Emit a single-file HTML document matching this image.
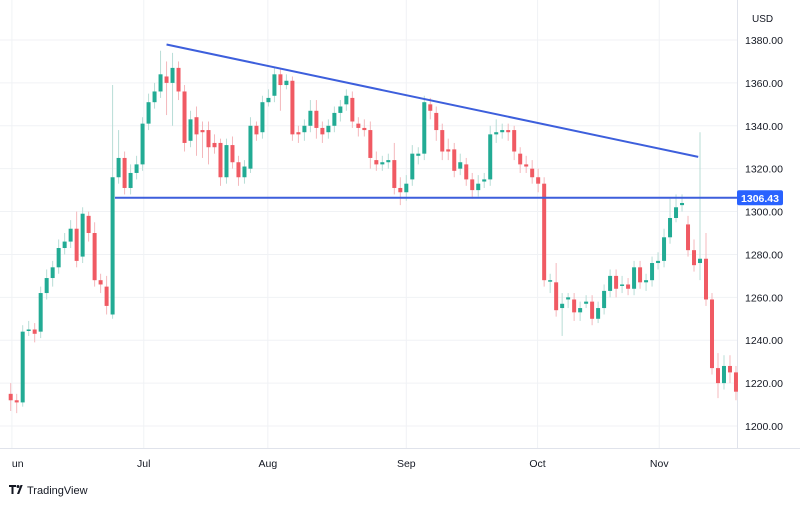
<!DOCTYPE html>
<html><head><meta charset="utf-8"><style>
html,body{margin:0;padding:0;background:#fff;}
svg{display:block;font-family:"Liberation Sans",sans-serif;}
</style></head><body>
<svg id="c" width="800" height="506" viewBox="0 0 800 506"></svg>
<script>
const opens=[1215,1212,1211,1244.5,1245,1244,1262,1269,1274,1283,1286,1292,1279,1298,1290,1268,1265,1252,1316,1325,1311,1318,1322,1341,1351,1356,1363,1360,1367,1356,1333,1344,1338,1338,1332,1332,1316,1331,1323,1316,1320,1340,1337,1351,1354,1364,1359,1361,1337,1337,1340,1347,1339,1337,1340,1346,1350,1353,1341,1339,1338,1324,1322,1323,1324,1311,1309,1315,1326,1327,1350,1346,1338,1329,1329,1320,1322,1315,1310,1314,1315,1336,1337,1338,1338,1327,1322,1320,1316,1313,1268,1267,1255,1259,1259,1253,1257,1258,1250,1255,1263,1270,1266,1266,1264,1274,1267,1268,1276,1277,1288,1297,1303,1294,1282,1276,1278,1259,1227,1220,1228,1225];
const closes=[1212,1211,1244,1245,1243,1262,1269,1274,1283,1286,1292,1277,1299,1290,1268,1266,1256,1316,1325,1311,1318,1322,1341,1351,1356,1364,1360,1367,1356,1332,1343,1336,1337,1330,1330,1316,1331,1323,1316,1321,1340,1336,1351,1353,1364,1359,1361,1336,1336,1340,1347,1339,1336,1340,1346,1349,1354,1342,1339,1338,1325,1322,1323,1324,1311,1309,1313,1327,1327,1351,1347,1338,1328,1328,1319,1323,1315,1310,1313,1315,1336,1337,1338,1337,1328,1322,1321,1316,1313,1268,1268,1254,1257,1260,1253,1255,1258,1250,1255,1263,1270,1264,1266,1264,1274,1267,1268,1276,1277,1288,1297,1302,1304,1282,1275,1278,1259,1227,1220,1228,1225,1216];
const highs=[1220,1215,1247,1249,1248,1265,1273,1277,1287,1290,1296,1300,1302,1300,1295,1271,1270,1359,1338,1328,1322,1326,1344,1355,1360,1375,1370,1374,1370,1359,1347,1349,1342,1342,1336,1334,1334,1335,1326,1324,1344,1342,1354,1357,1367,1367,1364,1363,1340,1343,1352,1352,1342,1343,1349,1352,1357,1356,1344,1343,1342,1328,1326,1327,1332,1316,1317,1331,1330,1354,1353,1349,1341,1334,1332,1327,1325,1318,1317,1318,1340,1343,1341,1341,1340,1330,1326,1324,1320,1316,1271,1276,1262,1262,1262,1258,1261,1261,1258,1266,1273,1273,1270,1269,1277,1277,1271,1279,1281,1292,1306,1308,1308,1298,1287,1337,1290,1262,1234,1233,1233,1228];
const lows=[1207,1206,1209,1242,1239,1241,1259,1265,1271,1280,1283,1274,1276,1286,1265,1262,1252,1250,1313,1308,1308,1315,1319,1338,1348,1353,1345,1340,1352,1328,1330,1326,1325,1322,1327,1312,1313,1320,1312,1313,1318,1333,1334,1349,1351,1347,1357,1333,1332,1333,1337,1334,1332,1334,1337,1342,1347,1339,1335,1335,1320,1319,1319,1320,1308,1303,1305,1312,1322,1324,1343,1333,1324,1324,1316,1317,1312,1306,1307,1311,1312,1332,1334,1333,1324,1318,1318,1313,1309,1265,1262,1251,1242,1255,1249,1249,1255,1247,1248,1252,1260,1260,1262,1261,1261,1264,1263,1265,1273,1274,1285,1295,1300,1279,1272,1268,1256,1224,1213,1217,1220,1212];
const yTicks=[1200,1220,1240,1260,1280,1300,1320,1340,1360,1380];
const monthLabels=["un","Jul","Aug","Sep","Oct","Nov"];
const monthIdx=[0.2,22.2,42.9,66,87.9,108.2];
const trendStart=[26,1377.9];
const trendEnd=[114.7,1325.5];
const supportLevel=1306.43;
const supportStartIdx=17.4;

const NS="http://www.w3.org/2000/svg";
const svg=document.getElementById('c');
const X0=10.7,DX=5.994,PLOT_R=737;
const xS=i=>X0+i*DX;
const yS=p=>426-(p-1200)*2.1444;
function mk(t,a,parent){const e=document.createElementNS(NS,t);for(const k in a)e.setAttribute(k,a[k]);(parent||svg).appendChild(e);return e;}

// grid
const grid=mk('g',{});


yTicks.forEach(v=>{mk('line',{x1:0,x2:PLOT_R,y1:yS(v),y2:yS(v),stroke:'#f0f2f5','stroke-width':1},grid);});
monthIdx.forEach(i=>{mk('line',{x1:xS(i),x2:xS(i),y1:0,y2:448,stroke:'#f0f2f5','stroke-width':1},grid);});

// axes
const ax=mk('g',{});


mk('line',{x1:PLOT_R+0.5,x2:PLOT_R+0.5,y1:0,y2:448,stroke:'#e0e3eb'},ax);
mk('line',{x1:0,x2:800,y1:448.5,y2:448.5,stroke:'#e0e3eb'},ax);
const usd=mk('text',{x:752,y:22,'font-size':10,fill:'#131722'},ax);usd.textContent='USD';


yTicks.forEach(v=>{const t=mk('text',{x:745,y:yS(v)+4,'font-size':10.5,fill:'#131722'},ax);t.textContent=v.toFixed(2);

});
const xa=mk('g',{});


monthLabels.forEach((m,k)=>{const t=mk('text',{x:xS(monthIdx[k]),y:467,'font-size':10.5,fill:'#131722','text-anchor':k===0?'start':'middle'},xa);t.textContent=m;

});

// candles
const cg=mk('g',{});


opens.forEach((o,i)=>{
  const c=closes[i],up=c>=o,col=up?'#22ab94':'#f05a63';
  const x=xS(i);
  const g=mk('g',{},cg);
  
  
  mk('line',{x1:x,x2:x,y1:yS(highs[i]),y2:yS(lows[i]),stroke:up?'#b8ddd6':'#f4b8bc','stroke-width':1},g);
  const yt=yS(Math.max(o,c)),yb=yS(Math.min(o,c));
  mk('rect',{x:x-2,y:yt,width:4,height:Math.max(1.5,yb-yt),fill:col},g);
});

// lines
const tl=mk('line',{x1:xS(trendStart[0]),y1:yS(trendStart[1]),x2:xS(trendEnd[0]),y2:yS(trendEnd[1]),stroke:'#3d5fdc','stroke-width':2});


const sl=mk('line',{x1:xS(supportStartIdx),y1:yS(supportLevel),x2:PLOT_R,y2:yS(supportLevel),stroke:'#3d5fdc','stroke-width':2});


const pb=mk('g',{});


mk('rect',{x:737,y:yS(supportLevel)-7.5,width:46,height:15,rx:2,fill:'#2962ff'},pb);
const pt=mk('text',{x:760,y:yS(supportLevel)+4,'font-size':10.5,fill:'#fff','text-anchor':'middle','font-weight':'bold'},pb);pt.textContent=supportLevel.toFixed(2);

// logo
const lg=mk('g',{});


mk('path',{d:'M9 485h7v2h-2.5v7h-2v-7H9z M17 494l3.5-9h2.2l-3.5 9z',fill:'#131722'},lg);
mk('circle',{cx:18,cy:486.5,r:1.5,fill:'#131722'},lg);
const lt=mk('text',{x:27,y:494,'font-size':11,fill:'#131722'},lg);lt.textContent='TradingView';
</script>
</body></html>
